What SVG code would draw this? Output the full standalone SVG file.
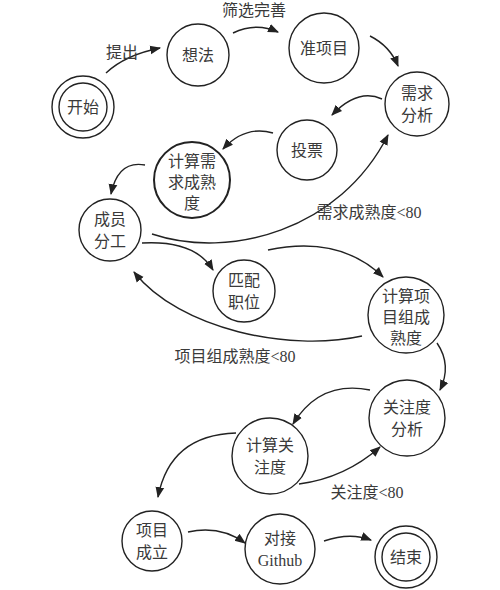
<svg xmlns="http://www.w3.org/2000/svg" width="500" height="590" viewBox="0 0 500 590">
<style>
circle{fill:#fff;stroke:#222;stroke-width:1.4}
circle.bold{stroke-width:2}
text{font-family:"Liberation Serif","Noto Sans CJK SC",serif;font-size:16px;fill:#3a3a3a;text-anchor:middle;dominant-baseline:central}
.e path{fill:none;stroke:#222;stroke-width:1.4;marker-end:url(#a)}
</style>
<defs>
<marker id="a" viewBox="0 0 10 10" refX="9" refY="5" markerWidth="11" markerHeight="11" markerUnits="userSpaceOnUse" orient="auto">
<path d="M0,1 L10,5 L0,9 Z" fill="#222"/>
</marker>
</defs>
<g class="e" id="edges">
<path d="M106,73 Q125,55 160,48"/>
<path d="M233,33 Q256,22 278,32"/>
<path d="M370,36 Q390,46 398,66"/>
<path d="M382,99 Q358,88 332,115"/>
<path d="M273,133 Q245,125 223,149"/>
<path d="M145,165 Q118,160 111,194"/>
<path d="M152,234 C230,260 340,230 388,135"/>
<path d="M142,243 Q195,240 213,270"/>
<path d="M268,250 Q340,235 383,277"/>
<path d="M362,336 C290,352 180,330 134,272"/>
<path d="M437,343 Q452,365 440,390"/>
<path d="M370,390 Q320,380 293,424"/>
<path d="M299,484 Q345,478 380,447"/>
<path d="M236,433 Q170,435 158,497"/>
<path d="M188,532 Q220,525 245,543"/>
<path d="M324,541 Q350,532 371,540"/>
<text x="122" y="52">提出</text>
<text x="254" y="10">筛选完善</text>
<text x="369" y="212">需求成熟度&lt;80</text>
<text x="235" y="356">项目组成熟度&lt;80</text>
<text x="367" y="492">关注度&lt;80</text>
</g>
<g id="start"><circle cx="83" cy="107" r="31"/><circle cx="83" cy="107" r="24"/><text x="83" y="107">开始</text></g>
<g id="idea"><circle cx="198" cy="55" r="31"/><text x="198" y="55">想法</text></g>
<g id="proj"><circle cx="324" cy="48" r="35"/><text x="324" y="48">准项目</text></g>
<g id="req"><circle cx="417" cy="104" r="32"/><text x="417" y="93">需求</text><text x="417" y="115">分析</text></g>
<g id="vote"><circle cx="307" cy="150" r="30"/><text x="307" y="150">投票</text></g>
<g id="reqmat"><circle class="bold" cx="192" cy="180" r="38"/><text x="192" y="161">计算需</text><text x="192" y="182">求成熟</text><text x="192" y="203">度</text></g>
<g id="member"><circle cx="110" cy="230" r="31"/><text x="110" y="219">成员</text><text x="110" y="241">分工</text></g>
<g id="match"><circle cx="244" cy="291" r="31"/><text x="244" y="280">匹配</text><text x="244" y="302">职位</text></g>
<g id="teammat"><circle cx="406" cy="315" r="38"/><text x="406" y="296">计算项</text><text x="406" y="317">目组成</text><text x="406" y="338">熟度</text></g>
<g id="attn"><circle cx="407" cy="418" r="38"/><text x="407" y="407">关注度</text><text x="407" y="429">分析</text></g>
<g id="calcattn"><circle cx="270" cy="456" r="38"/><text x="270" y="445">计算关</text><text x="270" y="467">注度</text></g>
<g id="setup"><circle cx="152" cy="541" r="30"/><text x="152" y="530">项目</text><text x="152" y="552">成立</text></g>
<g id="github"><circle cx="280" cy="549" r="35"/><text x="280" y="538">对接</text><text x="280" y="560">Github</text></g>
<g id="end"><circle cx="406" cy="557" r="31"/><circle cx="406" cy="557" r="24"/><text x="406" y="557">结束</text></g>
</svg>
